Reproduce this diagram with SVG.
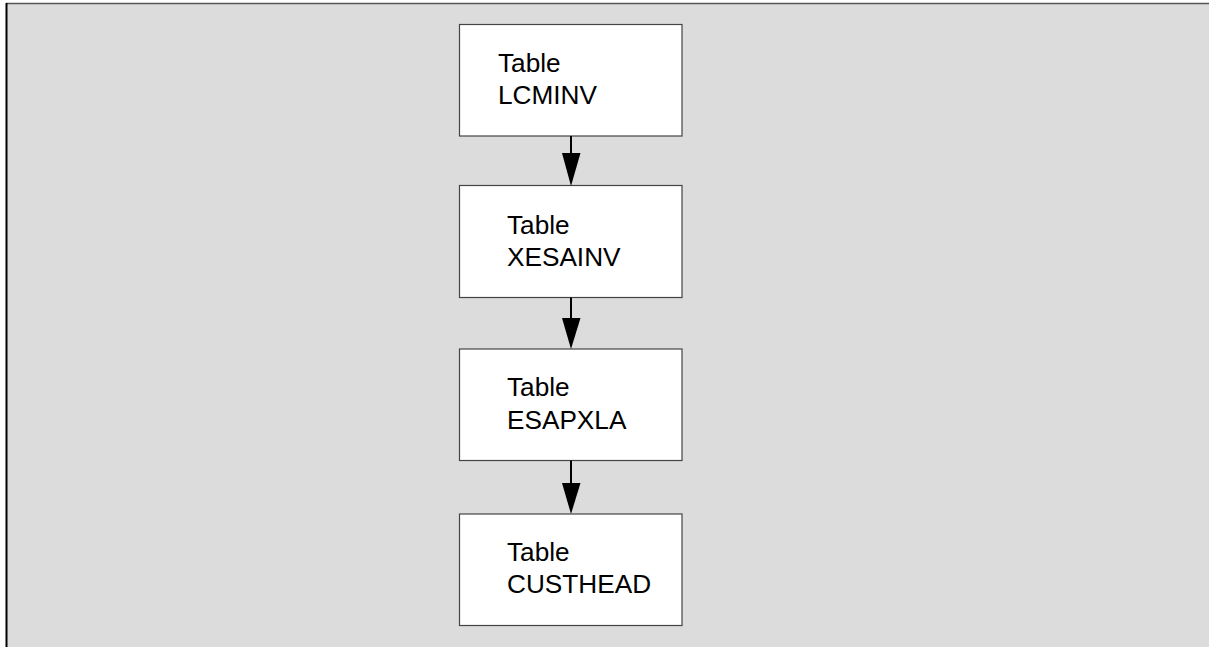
<svg xmlns="http://www.w3.org/2000/svg" width="1209" height="647" viewBox="0 0 1209 647">
<style>
.box{fill:#ffffff;stroke:#444444;stroke-width:1.2}
.t{font-family:"Liberation Sans",Arial,sans-serif;font-size:26.2px;fill:#000000}
.c{stroke:#000000;stroke-width:2;fill:none}
.h{fill:#000000;stroke:none}
</style>
<rect x="6" y="3" width="1203" height="644" fill="#dcdcdc"/>
<line x1="6" y1="3.5" x2="1209" y2="3.5" stroke="#555555" stroke-width="1.5"/>
<line x1="6.5" y1="3" x2="6.5" y2="647" stroke="#000000" stroke-width="2"/>
<g id="node-lcminv">
<rect class="box" x="459.5" y="24.5" width="222.5" height="111.5"/>
<text class="t" x="498" y="71.5">Table</text>
<text class="t" x="498" y="103.5">LCMINV</text>
</g>
<g id="node-xesainv">
<rect class="box" x="459.5" y="185.5" width="222.5" height="112"/>
<text class="t" x="507" y="234">Table</text>
<text class="t" x="507" y="266">XESAINV</text>
</g>
<g id="node-esapxla">
<rect class="box" x="459.5" y="349" width="222.5" height="111.5"/>
<text class="t" x="507" y="396">Table</text>
<text class="t" x="507" y="428.5">ESAPXLA</text>
</g>
<g id="node-custhead">
<rect class="box" x="459.5" y="514" width="222.5" height="111.5"/>
<text class="t" x="507" y="561">Table</text>
<text class="t" x="507" y="593">CUSTHEAD</text>
</g>
<g id="connectors">
<line class="c" x1="571" y1="136" x2="571" y2="155"/>
<polygon class="h" points="562,153 580.5,153 571,186"/>
<line class="c" x1="571" y1="297.5" x2="571" y2="320"/>
<polygon class="h" points="562,318 580.5,318 571,349"/>
<line class="c" x1="571" y1="460.5" x2="571" y2="485"/>
<polygon class="h" points="562,483 580.5,483 571,514"/>
</g>
</svg>
